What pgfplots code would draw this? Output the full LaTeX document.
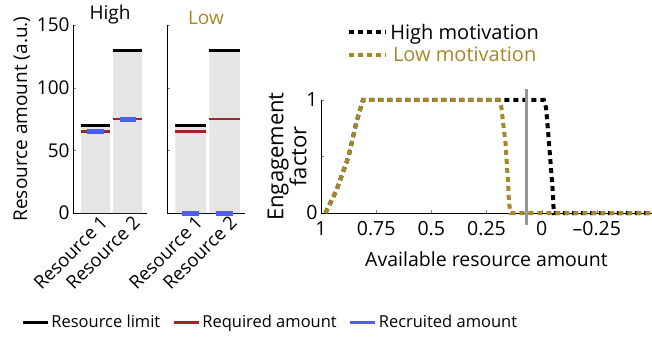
\documentclass[border=0pt]{standalone}
\usepackage{fontspec}
\setmainfont{Open Sans}
\usepackage{pgfplots}
\pgfplotsset{compat=1.18}
\definecolor{gold}{RGB}{168,135,40}
\definecolor{req}{RGB}{155,40,40}
\definecolor{rec}{RGB}{75,95,240}
\definecolor{barg}{RGB}{229,229,229}
\definecolor{vline}{RGB}{150,150,150}
\pgfplotsset{
  resax/.style={scale only axis, width=74bp, height=188bp, anchor=south west,
    xmin=0.3, xmax=2.6, ymin=0, ymax=150,
    axis x line*=bottom, axis y line*=left,
    xtick={1,2}, xticklabels={Resource 1, Resource 2},
    ytick={0,50,100,150}, tick align=inside, major tick length=3bp,
    x tick style={draw=none},
    xticklabel style={rotate=45, anchor=north east, inner sep=1bp, xshift=3bp, yshift=-2.5bp, font=\fontsize{18.5bp}{21bp}\selectfont},
    yticklabel style={font=\fontsize{19bp}{21bp}\selectfont},
    /pgf/number format/assume math mode=true,
    clip=false, axis line style={line width=0.8bp},
    title style={font=\fontsize{19bp}{21bp}\selectfont, yshift=-9bp}},
  dotln/.style={line width=4bp, dash pattern=on 5bp off 4bp}
}
\begin{document}
\begin{tikzpicture}[x=1bp,y=1bp]
\useasboundingbox (0,0) rectangle (652,337);
% Panel High
\begin{axis}[resax, at={(73bp,124bp)}, title={High},
  ylabel={Resource amount (a.u.)}, ylabel style={font=\fontsize{19bp}{21bp}\selectfont},
  legend columns=3,
  legend style={at={(axis description cs:-0.74,-0.58)}, anchor=west, draw=none, fill=none,
    font=\fontsize{16.5bp}{20bp}\selectfont, /tikz/every even column/.append style={column sep=10bp}},
  legend image code/.code={\draw[#1,line width=3bp] (0bp,0bp)--(25bp,0bp);}]
\addplot[ybar, bar width=0.9, fill=barg, draw=none, forget plot] coordinates {(1,70) (2,130)};
\addplot[black, line width=3bp, forget plot] coordinates {(0.55,70) (1.45,70)};
\addplot[black, line width=3bp, forget plot] coordinates {(1.55,130) (2.45,130)};
\addplot[req, line width=2.5bp, forget plot] coordinates {(0.55,65) (1.45,65)};
\addplot[req, line width=2.5bp, forget plot] coordinates {(1.55,75) (2.45,75)};
\addplot[rec, line width=5bp, forget plot] coordinates {(0.75,65) (1.25,65)};
\addplot[rec, line width=5bp, forget plot] coordinates {(1.75,75) (2.25,75)};
\addlegendimage{black}
\addlegendentry{Resource limit}
\addlegendimage{req}
\addlegendentry{Required amount}
\addlegendimage{rec}
\addlegendentry{Recruited amount}
\end{axis}
% Panel Low
\begin{axis}[resax, at={(167bp,124bp)}, width=78bp, title={\textcolor{gold}{Low}}, yticklabels={,,,}]
\addplot[ybar, bar width=0.9, fill=barg, draw=none] coordinates {(1,70) (2,130)};
\addplot[black, line width=3bp] coordinates {(0.55,70) (1.45,70)};
\addplot[black, line width=3bp] coordinates {(1.55,130) (2.45,130)};
\addplot[req, line width=2.5bp] coordinates {(0.55,65) (1.45,65)};
\addplot[req, line width=2.5bp] coordinates {(1.55,75) (2.45,75)};
\addplot[rec, line width=5bp] coordinates {(0.75,0) (1.25,0)};
\addplot[rec, line width=5bp] coordinates {(1.75,0) (2.25,0)};
\end{axis}
% Engagement panel
\begin{axis}[scale only axis, width=331bp, height=113bp, at={(321bp,124bp)}, anchor=south west,
  xmin=-0.5, xmax=1, x dir=reverse, ymin=0, ymax=1,
  axis x line*=bottom, axis y line*=left, clip=false,
  axis line style={line width=0.8bp},
  xtick={1,0.75,0.5,0.25,0,-0.25}, xticklabels={1,0.75,0.5,0.25,0,–0.25},
  ytick={0,0.5,1}, yticklabels={0,,1},
  tick align=inside, major tick length=3bp,
  ticklabel style={font=\fontsize{19.5bp}{21bp}\selectfont},
  xticklabel style={yshift=-5bp},
  xlabel={Available resource amount},
  ylabel={Engagement\\factor}, ylabel style={align=center, font=\fontsize{22bp}{23bp}\selectfont, at={(ticklabel cs:0.5,-7bp)}},
  xlabel style={font=\fontsize{19.5bp}{21bp}\selectfont, yshift=-9bp},
  legend style={at={(axis description cs:0.07,1.71)}, anchor=north west, draw=none, fill=none,
    font=\fontsize{20bp}{22bp}\selectfont, row sep=2.5bp},
  legend image code/.code={\draw[#1] (0bp,0bp)--(37bp,0bp);}]
\addplot[black, dotln] coordinates {(0.98,0) (0.93,0.2) (0.875,0.5) (0.84,0.8) (0.81,1) (-0.01,1) (-0.02,0.93) (-0.03,0.7) (-0.04,0.45) (-0.05,0.2) (-0.055,0) (-0.5,0)};
\addlegendentry{High motivation}
\addplot[gold, dotln] coordinates {(0.98,0) (0.93,0.2) (0.875,0.5) (0.84,0.8) (0.81,1) (0.194,1) (0.183,0.94) (0.164,0.62) (0.153,0.29) (0.148,0.09) (0.141,0) (-0.5,0)};
\addlegendentry{\textcolor{gold}{Low motivation}}
\addplot[vline, line width=3bp, forget plot] coordinates {(0.07,-0.105) (0.07,1.1)};
\end{axis}
\end{tikzpicture}
\end{document}
